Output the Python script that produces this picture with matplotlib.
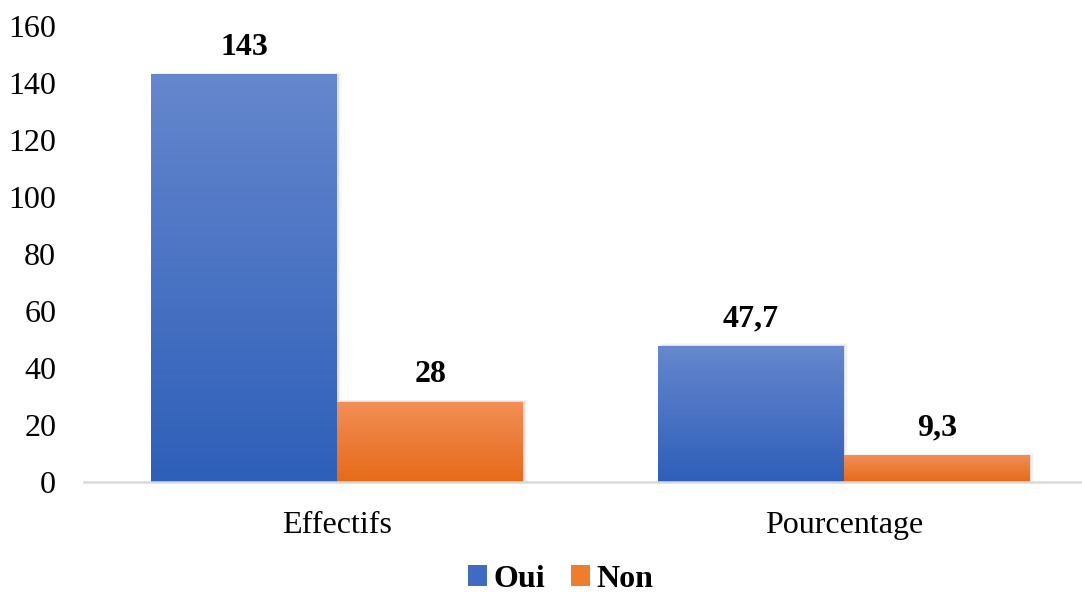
import numpy as np
import matplotlib
matplotlib.use("Agg")
import matplotlib.pyplot as plt
from matplotlib.colors import LinearSegmentedColormap
from matplotlib.patches import Rectangle

categories = ["Effectifs", "Pourcentage"]
series_names = ["Oui", "Non"]
oui_values = [143, 47.7]
non_values = [28, 9.3]
value_labels = [["143", "47,7"], ["28", "9,3"]]
y_ticks = [0, 20, 40, 60, 80, 100, 120, 140, 160]

plt.rcParams["font.family"] = ["Liberation Serif", "DejaVu Serif"]
FS = 23

fig = plt.figure(figsize=(10.82, 5.92), dpi=100)
ax = fig.add_axes([0.0776, 0.186, 0.9365, 0.77])

bar_w = 0.367
x = np.arange(len(categories))
gradients = [
    LinearSegmentedColormap.from_list("blue_grad", ["#2e5fb9", "#6587cd"]),
    LinearSegmentedColormap.from_list("orange_grad", ["#e66a18", "#f28e56"]),
]
grad_img = np.linspace(0, 1, 256).reshape(-1, 1)

for s, vals in enumerate([oui_values, non_values]):
    offs = (s - 0.5) * bar_w
    bars = ax.bar(x + offs, vals, bar_w, color="none", edgecolor="none",
                  label=series_names[s], zorder=2)
    for b, v, lab in zip(bars, vals, value_labels[s]):
        x0 = b.get_x()
        # soft shadow to the right of the bar
        for k, a in enumerate([0.07, 0.04, 0.02]):
            ax.add_patch(Rectangle((x0 + 0.003 * (k + 1), 0), b.get_width(), v + 0.3 * (k + 1),
                                   facecolor="#000000", alpha=a, edgecolor="none", zorder=1.5))
        ax.imshow(grad_img, cmap=gradients[s], aspect="auto", origin="lower",
                  extent=[x0, x0 + b.get_width(), 0, v], zorder=2.5)
        ax.text(x0 + b.get_width() / 2, v + 4.5, lab, ha="center", va="bottom",
                fontsize=FS, fontweight="bold", zorder=3)

ax.set_xlim(-0.5, 1.5)
ax.set_ylim(0, 160)
ax.set_yticks(y_ticks)
ax.set_yticklabels([str(t) for t in y_ticks], fontsize=FS)
ax.set_xticks(x)
ax.set_xticklabels(categories, fontsize=FS)
ax.tick_params(axis="both", length=0)
ax.tick_params(axis="x", pad=21)
ax.tick_params(axis="y", pad=20)
for side in ["top", "right", "left"]:
    ax.spines[side].set_visible(False)
ax.spines["bottom"].set_color("#d9d9d9")
ax.spines["bottom"].set_linewidth(1.8)
ax.spines["bottom"].set_zorder(4)

handles = [Rectangle((0, 0), 1, 1, facecolor=c) for c in ["#3f6bc4", "#f07d2e"]]
fig.legend(handles, series_names, loc="lower center", bbox_to_anchor=(0.518, -0.03),
           ncol=2, frameon=False, borderpad=0.0, handlelength=0.6, handleheight=0.6,
           handletextpad=0.2, columnspacing=0.8,
           prop={"size": FS, "weight": "bold"})

fig.savefig("out.png", dpi=100)
